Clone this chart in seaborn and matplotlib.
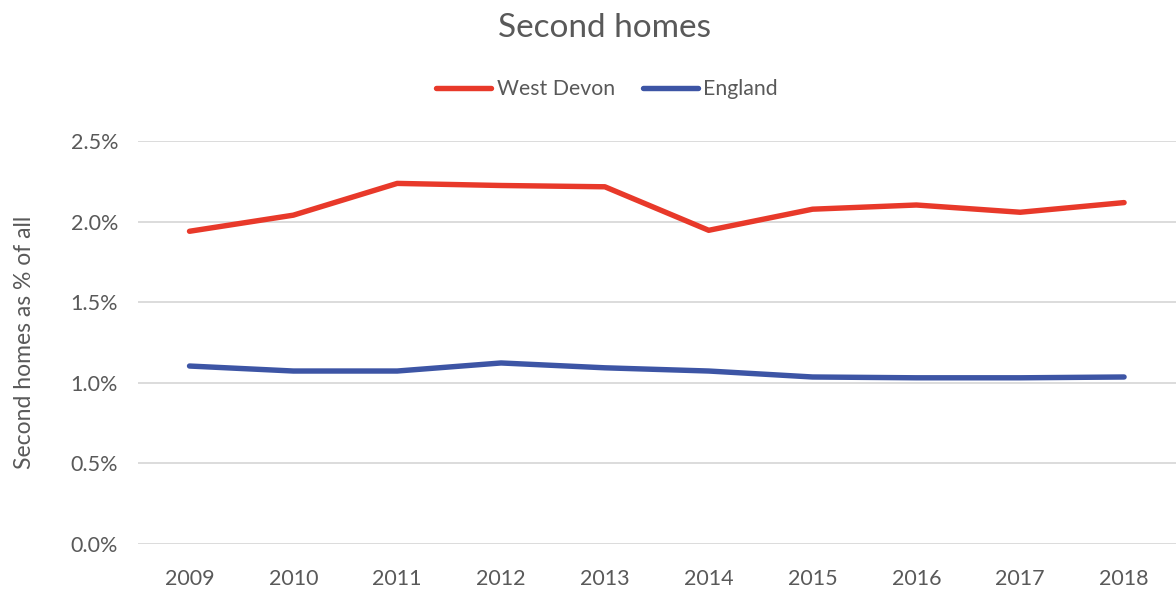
import matplotlib
matplotlib.use("Agg")
import matplotlib.pyplot as plt
import seaborn as sns
import pandas as pd
from matplotlib.ticker import FuncFormatter

years = ["2009", "2010", "2011", "2012", "2013", "2014", "2015", "2016", "2017", "2018"]
west_devon = [1.94, 2.04, 2.237, 2.224, 2.216, 1.946, 2.077, 2.103, 2.058, 2.118]
england = [1.104, 1.073, 1.073, 1.123, 1.093, 1.073, 1.036, 1.031, 1.031, 1.036]
series_names = ["West Devon", "England"]
yticks = [0.0, 0.5, 1.0, 1.5, 2.0, 2.5]

df = pd.DataFrame({
    "year": years * 2,
    "value": west_devon + england,
    "series": [series_names[0]] * len(years) + [series_names[1]] * len(years),
})

sns.set_theme(style="white")
plt.rcParams["font.family"] = ["Lato", "DejaVu Sans"]
text_color = "#595959"

fig = plt.figure(figsize=(11.76, 5.9), dpi=100)
ax = fig.add_axes([0.117, 0.078, 0.883, 0.683])

palette = {"West Devon": "#E8392A", "England": "#3D55A5"}
sns.lineplot(data=df, x="year", y="value", hue="series", palette=palette,
             linewidth=3.9, ax=ax, sort=False, legend=True)
for ln in ax.lines:
    ln.set_solid_capstyle("round")

ax.set_xlim(-0.5, len(years) - 0.5)
ax.set_ylim(0, 2.5)
ax.set_yticks(yticks)
ax.yaxis.set_major_formatter(FuncFormatter(lambda v, p: f"{v:.1f}%"))
ax.grid(axis="y", color="#D9D9D9", linewidth=1.3)
ax.set_axisbelow(True)
for s in ax.spines.values():
    s.set_visible(False)
ax.tick_params(axis="both", length=0, labelsize=15.5, colors=text_color)
ax.tick_params(axis="y", pad=14)
ax.tick_params(axis="x", pad=18)
ax.set_xlabel("")
ax.set_ylabel("Second homes as % of all", fontsize=16.5, color=text_color, labelpad=26)

leg = ax.legend(loc="center", bbox_to_anchor=(0.452, 1.129), ncol=2, frameon=False,
                fontsize=15.3, handlelength=2.6, handletextpad=0.25, columnspacing=1.3)
for t in leg.get_texts():
    t.set_color(text_color)
for h in leg.get_lines():
    h.set_linewidth(3.9)
    h.set_solid_capstyle("round")

fig.text(0.514, 0.953, "Second homes", ha="center", va="center", fontsize=24, color=text_color)

fig.savefig("out.png", dpi=100)
